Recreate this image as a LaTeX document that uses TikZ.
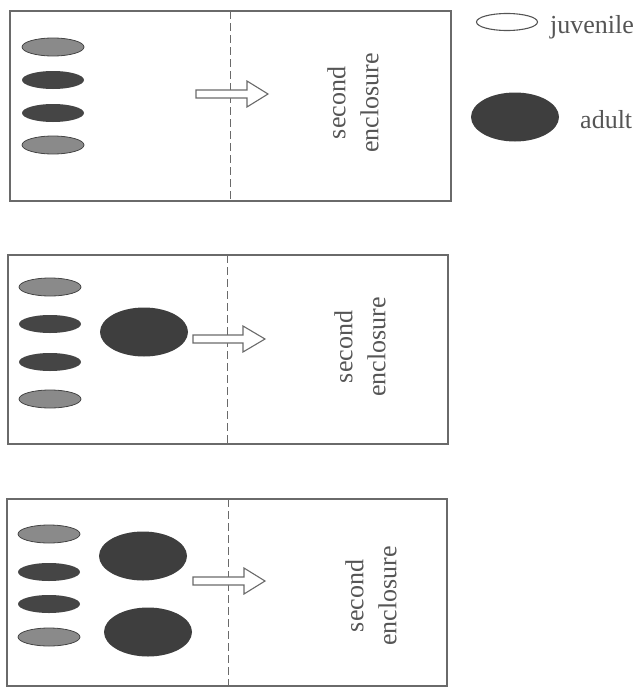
\documentclass[tikz,border=0pt]{standalone}
\usepackage{fontspec}
\setmainfont{Liberation Serif}
\usetikzlibrary{shapes.geometric}
\definecolor{linegray}{HTML}{6A6A6A}
\definecolor{textgray}{HTML}{555555}
\definecolor{darkbody}{HTML}{3E3E3E}
\definecolor{midbody}{HTML}{454545}
\definecolor{lightbody}{HTML}{8A8A8A}
\tikzset{
  enclosure/.style={draw=linegray, line width=1.3pt},
  divider/.style={draw=linegray, line width=1pt, dash pattern=on 8pt off 4pt},
  smallfish/.style={ellipse, inner sep=0pt, minimum width=62pt, minimum height=18pt},
  lightfish/.style={smallfish, fill=lightbody, draw=midbody, line width=0.8pt},
  darkfish/.style={smallfish, fill=midbody},
  adultfish/.style={ellipse, inner sep=0pt, fill=darkbody, minimum width=88pt, minimum height=49pt},
  label/.style={text=textgray, font=\fontsize{26}{33}\selectfont},
  sidelabel/.style={label, rotate=90, align=center},
  pics/blockarrow/.style={code={
    \draw[draw=linegray, line width=1.1pt, fill=white]
      (0,-4) -- (#1,-4) -- (#1,-13) -- (72,0) -- (#1,13) -- (#1,4) -- (0,4) -- cycle;
  }}
}
\begin{document}
\begin{tikzpicture}[x=1pt, y=-1pt]
\useasboundingbox (0,0) rectangle (640,688);

% first enclosure: juveniles only
\draw[enclosure] (10,11) rectangle (451,201);
\draw[divider] (230,11) -- (230,201);
\node[lightfish] (a1) at (53,47) {};
\node[darkfish]  (a2) at (53,80) {};
\node[darkfish]  (a3) at (53,113) {};
\node[lightfish] (a4) at (53,145) {};
\pic at (196,94) {blockarrow=51};
\node[sidelabel] (s1) at (353,103) {second\\enclosure};

% second enclosure: one adult
\draw[enclosure] (8,255) rectangle (448,444);
\draw[divider] (227,255) -- (227,444);
\node[lightfish] (b1) at (50,287) {};
\node[darkfish]  (b2) at (50,324) {};
\node[darkfish]  (b3) at (50,362) {};
\node[lightfish] (b4) at (50,399) {};
\node[adultfish] (bA) at (144,332) {};
\pic at (193,339) {blockarrow=50};
\node[sidelabel] (s2) at (360,347) {second\\enclosure};

% third enclosure: two adults
\draw[enclosure] (7,499) rectangle (447,686);
\draw[divider] (228,499) -- (228,686);
\node[lightfish] (c1) at (49,534) {};
\node[darkfish]  (c2) at (49,572) {};
\node[darkfish]  (c3) at (49,604) {};
\node[lightfish] (c4) at (49,637) {};
\node[adultfish] (cA) at (143,556) {};
\node[adultfish] (cB) at (148,632) {};
\pic at (193,581) {blockarrow=51};
\node[sidelabel] (s3) at (371,596) {second\\enclosure};

% legend
\node[ellipse, draw=textgray, line width=1.1pt, inner sep=0pt,
      minimum width=61pt, minimum height=17pt] (kj) at (507,22) {};
\node[label, anchor=base west, inner sep=0pt] (kjt) at (550,33) {juvenile};
\node[adultfish] (ka) at (515,117) {};
\node[label, anchor=base west, inner sep=0pt] (kat) at (580,128) {adult};
\end{tikzpicture}
\end{document}
